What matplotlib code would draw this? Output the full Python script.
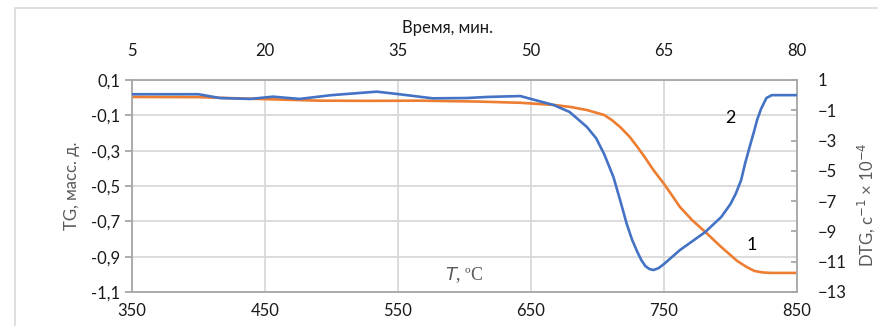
import matplotlib.pyplot as plt
from matplotlib.patches import Rectangle

# curve 1: TG (left axis), curve 2: DTG (right axis), x = temperature, C
tg_t = [350, 400, 448, 491, 530, 566, 610, 642, 667, 680, 692, 705, 711, 717,
        724, 730, 736, 742, 750, 756, 762, 771, 781, 793, 805, 812, 818, 824,
        830, 850]
tg_v = [0.004, 0.003, -0.008, -0.017, -0.018, -0.017, -0.022, -0.029, -0.041,
        -0.053, -0.07, -0.098, -0.128, -0.166, -0.220, -0.279, -0.342, -0.409,
        -0.488, -0.553, -0.619, -0.692, -0.760, -0.845, -0.924, -0.958, -0.981,
        -0.989, -0.992, -0.992]

dtg_t = [350, 400, 416, 439, 456, 476, 500, 534, 551, 576, 602, 617, 642, 652,
         667, 679, 692, 699, 705, 712, 717, 722, 726, 730, 733, 736, 739, 742,
         746, 750, 762, 781, 793, 800, 804, 808, 811, 815, 818, 820, 823, 827,
         831, 835, 850]
dtg_v = [0.06, 0.06, -0.19, -0.25, -0.10, -0.25, 0.0, 0.23, 0.06, -0.21, -0.19,
         -0.12, -0.06, -0.3, -0.65, -1.11, -2.10, -2.85, -3.89, -5.41, -6.93,
         -8.51, -9.55, -10.36, -10.90, -11.29, -11.48, -11.55, -11.42, -11.15,
         -10.23, -9.04, -8.05, -7.19, -6.50, -5.61, -4.50, -3.23, -2.30, -1.64,
         -0.90, -0.19, 0.0, 0.0, 0.0]

t_ticks = [350, 450, 550, 650, 750, 850]
time_ticks = [5, 20, 35, 50, 65, 80]
tg_ticks = [0.1, -0.1, -0.3, -0.5, -0.7, -0.9, -1.1]
dtg_ticks = [1, -1, -3, -5, -7, -9, -11, -13]

plt.rcParams['font.family'] = ['Lato', 'DejaVu Sans']
blue = '#4472C4'
orange = '#ED7D31'
grid_c = '#d9d9d9'
spine_c = '#a6a6a6'
lab_c = '#595959'
txt_c = '#1a1a1a'

fig = plt.figure(figsize=(8.79, 3.26), dpi=100)
fig.patches.append(Rectangle((15 / 879, -0.1), 1.2, (326 - 8) / 326 + 0.1,
                             transform=fig.transFigure, fill=False,
                             edgecolor=grid_c, linewidth=1.2))
ax = fig.add_axes([132 / 879, 34 / 326, 665 / 879, 212 / 326])
ax.set_xlim(350, 850)
ax.set_ylim(-1.1, 0.1)
ax.set_xticks(t_ticks)
ax.set_yticks(tg_ticks)
ax.set_yticklabels([f'{v:.1f}'.replace('.', ',') for v in tg_ticks])
ax.grid(True, color=grid_c, linewidth=1.3)
ax.set_axisbelow(True)
for s in ax.spines.values():
    s.set_color(spine_c)
    s.set_linewidth(1.3)
ax.tick_params(axis='both', colors=spine_c, labelcolor=txt_c, labelsize=12,
               length=5, width=1.3)
ax.tick_params(axis='x', length=0, pad=8)
ax.set_ylabel('TG, масс. д.', color=lab_c, fontsize=12, labelpad=8)

ax.plot(tg_t, tg_v, color=orange, linewidth=1.9, solid_capstyle='round',
        solid_joinstyle='round')

ax2 = ax.twinx()
ax2.set_ylim(-13, 1)
ax2.set_yticks(dtg_ticks)
ax2.plot(dtg_t, dtg_v, color=blue, linewidth=1.9, solid_capstyle='round',
         solid_joinstyle='round')
ax2.tick_params(axis='y', colors=spine_c, labelcolor=txt_c, labelsize=12,
                length=4, width=1.3, direction='in', pad=15)
for s in ax2.spines.values():
    s.set_visible(False)

top = ax.secondary_xaxis('top', functions=(lambda t: 5 + (t - 350) * 0.15,
                                           lambda m: 350 + (m - 5) / 0.15))
top.set_xticks(time_ticks)
top.tick_params(length=0, labelsize=12, labelcolor=txt_c, pad=15)
top.spines['top'].set_visible(False)
fig.text(448 / 879, 1 - 28 / 326, 'Время, мин.', ha='center', va='center',
         fontsize=12, color=txt_c)

ax.text(600, -1.004, '$\\it{T}$, ºC', ha='center', va='center', fontsize=13,
        color=lab_c, family='Liberation Serif')
ax.text(816, -0.834, '1', ha='center', va='center', fontsize=13)
ax.text(800, -0.115, '2', ha='center', va='center', fontsize=13)

fig.text(866 / 879, 1 - 205 / 326, 'DTG, с$^{-1}$ × 10$^{-4}$', rotation=90,
         ha='center', va='center', fontsize=12, color=lab_c)

fig.savefig('out.png', dpi=100)
